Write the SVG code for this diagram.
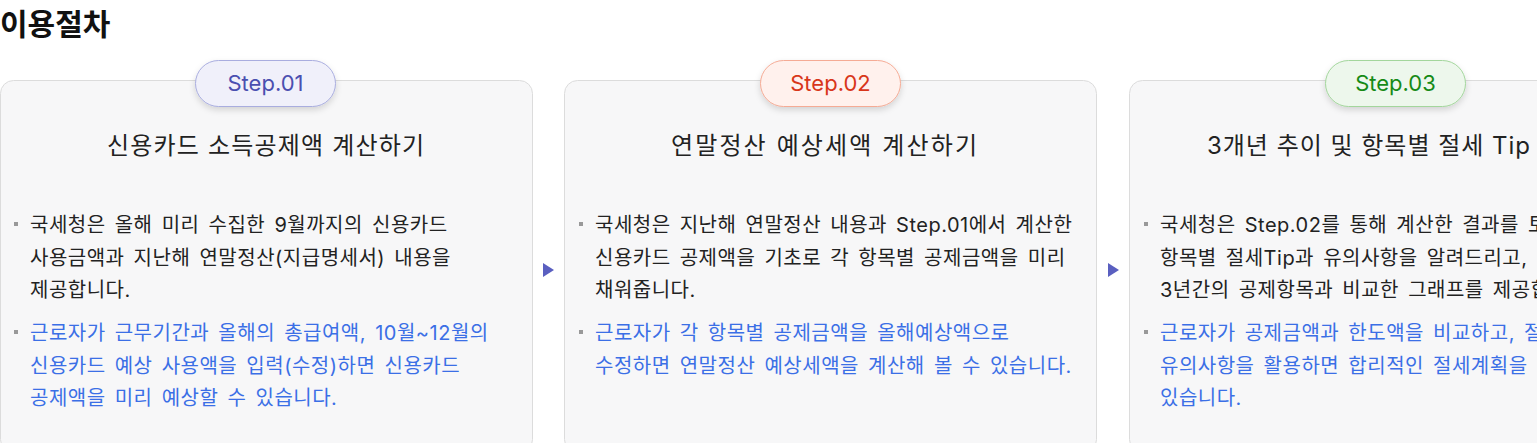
<svg xmlns="http://www.w3.org/2000/svg" width="1537" height="443" viewBox="0 0 1537 443">
<style>
text{font-family:Inter,"Noto Sans CJK KR","Noto Sans",sans-serif}
.title{font-size:30px;font-weight:700;fill:#111}
.card{fill:#f7f7f8;stroke:#dcdcdc;stroke-width:1}
.head{font-size:24px;fill:#222}
.body{font-size:20px;fill:#222;letter-spacing:0.5px;word-spacing:3px}
.blue{fill:#3b6fe6}
.bul{fill:#999}
.step{font-size:22px;text-anchor:middle}
.arrow{fill:#5a5fc0}
</style>
<defs>
<filter id="sh" x="-20%" y="-40%" width="140%" height="200%">
<feDropShadow dx="0" dy="3" stdDeviation="3" flood-color="#000" flood-opacity="0.15"/>
</filter>
</defs>
<text class="title" x="0" y="35">이용절차</text>

<g id="step1">
<rect class="card" x="0.5" y="80.5" width="532" height="372" rx="13"/>
<rect x="195.5" y="60.5" width="140" height="46" rx="23" fill="#f0f0fa" stroke="#a9addf" filter="url(#sh)"/>
<text class="step" x="265.5" y="91" fill="#4a4fb0">Step.01</text>
<text class="head" x="107" y="154" textLength="317" lengthAdjust="spacing">신용카드 소득공제액 계산하기</text>
<rect class="bul" x="14" y="222" width="4" height="4"/>
<text class="body" x="30" y="232">국세청은 올해 미리 수집한 9월까지의 신용카드</text>
<text class="body" x="30" y="264.5">사용금액과 지난해 연말정산(지급명세서) 내용을</text>
<text class="body" x="30" y="297">제공합니다.</text>
<rect class="bul" x="14" y="330" width="4" height="4"/>
<text class="body blue" x="30" y="340">근로자가 근무기간과 올해의 총급여액, 10월~12월의</text>
<text class="body blue" x="30" y="372.5">신용카드 예상 사용액을 입력(수정)하면 신용카드</text>
<text class="body blue" x="30" y="405">공제액을 미리 예상할 수 있습니다.</text>
</g>

<g id="step2">
<rect class="card" x="564.5" y="80.5" width="532" height="372" rx="13"/>
<rect x="760.5" y="60.5" width="140" height="46" rx="23" fill="#fff1ed" stroke="#f5ab95" filter="url(#sh)"/>
<text class="step" x="830.5" y="91" fill="#d8361a">Step.02</text>
<text class="head" x="671" y="154" textLength="306" lengthAdjust="spacing">연말정산 예상세액 계산하기</text>
<rect class="bul" x="579" y="222" width="4" height="4"/>
<text class="body" x="595" y="232">국세청은 지난해 연말정산 내용과 Step.01에서 계산한</text>
<text class="body" x="595" y="264.5">신용카드 공제액을 기초로 각 항목별 공제금액을 미리</text>
<text class="body" x="595" y="297">채워줍니다.</text>
<rect class="bul" x="579" y="330" width="4" height="4"/>
<text class="body blue" x="595" y="340">근로자가 각 항목별 공제금액을 올해예상액으로</text>
<text class="body blue" x="595" y="372.5">수정하면 연말정산 예상세액을 계산해 볼 수 있습니다.</text>
</g>

<g id="step3">
<rect class="card" x="1129.5" y="80.5" width="532" height="372" rx="13"/>
<rect x="1325.5" y="60.5" width="140" height="46" rx="23" fill="#edf7ec" stroke="#a3d69c" filter="url(#sh)"/>
<text class="step" x="1395.5" y="91" fill="#168a16">Step.03</text>
<text class="head" x="1207" y="154" textLength="323" lengthAdjust="spacing">3개년 추이 및 항목별 절세 Tip</text>
<rect class="bul" x="1144" y="222" width="4" height="4"/>
<text class="body" x="1160" y="232">국세청은 Step.02를 통해 계산한 결과를 토대로</text>
<text class="body" x="1160" y="264.5">항목별 절세Tip과 유의사항을 알려드리고, 최근</text>
<text class="body" x="1160" y="297">3년간의 공제항목과 비교한 그래프를 제공합니다.</text>
<rect class="bul" x="1144" y="330" width="4" height="4"/>
<text class="body blue" x="1160" y="340">근로자가 공제금액과 한도액을 비교하고, 절세Tip과</text>
<text class="body blue" x="1160" y="372.5">유의사항을 활용하면 합리적인 절세계획을 세울 수</text>
<text class="body blue" x="1160" y="405">있습니다.</text>
</g>

<g id="connectors">
<polygon class="arrow" points="543,263 554,270 543,277"/>
<polygon class="arrow" points="1108,263 1119,270 1108,277"/>
</g>
</svg>
